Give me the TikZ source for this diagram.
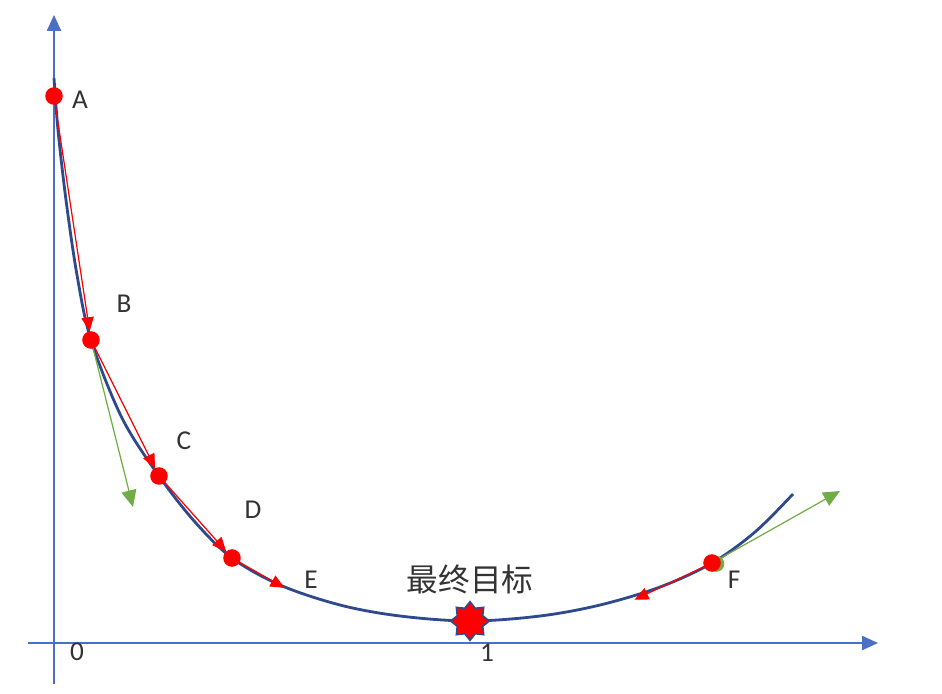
\documentclass[tikz,border=0pt]{standalone}
\usepackage{fontspec}
\setmainfont{Carlito}
\newfontfamily\cjk{Noto Sans CJK SC}
\usetikzlibrary{arrows.meta,shapes.geometric}
\definecolor{axisblue}{HTML}{4A6FC8}
\definecolor{curveblue}{HTML}{2F4A8C}
\definecolor{gradred}{HTML}{FF0000}
\definecolor{gradgreen}{HTML}{70AD47}
\tikzset{
  axis/.style={draw=axisblue, line width=0.9pt, -{Triangle[length=9pt,width=8pt]}},
  curve/.style={draw=curveblue, line width=1.6pt},
  redarrow/.style={draw=gradred, line width=0.7pt, -{Triangle[length=8pt,width=7pt]}, shorten >=-1pt},
  greenarrow/.style={draw=gradgreen, line width=0.7pt, -{Triangle[length=9.5pt,width=8.5pt]}},
  dot/.style={circle, fill=gradred, inner sep=0pt, minimum size=10pt},
  lbl/.style={font=\fontsize{15.5}{18}\selectfont, text=black!80, inner sep=0pt},
}
\begin{document}
\begin{tikzpicture}[x=0.02cm, y=-0.02cm]
\useasboundingbox[fill=white] (0,0) rectangle (942,693);
% axes
\coordinate (xs) at (28,643);
\coordinate (xe) at (878,643);
\coordinate (ys) at (54,684);
\coordinate (ye) at (54,15);
\draw[axis] (xs) -- (xe);
\draw[axis] (ys) -- (ye);
\node[lbl] (zero) at (77,652) {0};
\node[lbl] (one) at (487,653) {1};
% curve
\draw[curve] plot[smooth, tension=0.55] coordinates {(54,78) (58,130) (66,200) (77,275) (91,340) (122,418) (159,476) (195,522) (232,558) (280,585) (340,605) (400,616) (470,621) (540,616) (600,605) (660,587) (712,563) (755,532) (793,494)};
% points
\coordinate (A) at (54,96);
\coordinate (B) at (91,340);
\coordinate (C) at (159,476);
\coordinate (D) at (232,558);
\coordinate (F) at (712,563);
\coordinate (Eend) at (283,587);
\coordinate (Fend) at (636,599);
\coordinate (gB) at (133,507);
\coordinate (gF) at (840,491);
% red gradient steps
\draw[redarrow, shorten >=5pt] (A) -- (B);
\draw[redarrow, shorten >=5pt] (B) -- (C);
\draw[redarrow, shorten >=5pt] (C) -- (D);
\draw[redarrow] (D) -- (Eend);
\draw[redarrow] (F) -- (Fend);
% green tangent arrows
\draw[greenarrow] (B) -- (gB);
\draw[greenarrow] (F) -- (gF);
% dots
\fill[gradgreen] ([xshift=2.5pt,yshift=-0.5pt]F) circle (4.5pt);
\node[dot] (dA) at (A) {};
\node[dot] (dB) at (B) {};
\node[dot] (dC) at (C) {};
\node[dot] (dD) at (D) {};
\node[dot] (dF) at (F) {};
% target
\node[star, star points=8, star point ratio=1.4, minimum size=22pt, inner sep=0pt, fill=gradred, draw=curveblue, line width=0.9pt] (target) at (470,621) {};
\node[font=\cjk\fontsize{18}{20}\selectfont, text=black!80, inner sep=0pt] (goal) at (470,579) {最终目标};
% labels
\node[lbl] (lA) at (80,100) {A};
\node[lbl] (lB) at (124,304) {B};
\node[lbl] (lC) at (184,441) {C};
\node[lbl] (lD) at (253,510) {D};
\node[lbl] (lE) at (311,580) {E};
\node[lbl] (lF) at (734,580) {F};
\end{tikzpicture}
\end{document}
